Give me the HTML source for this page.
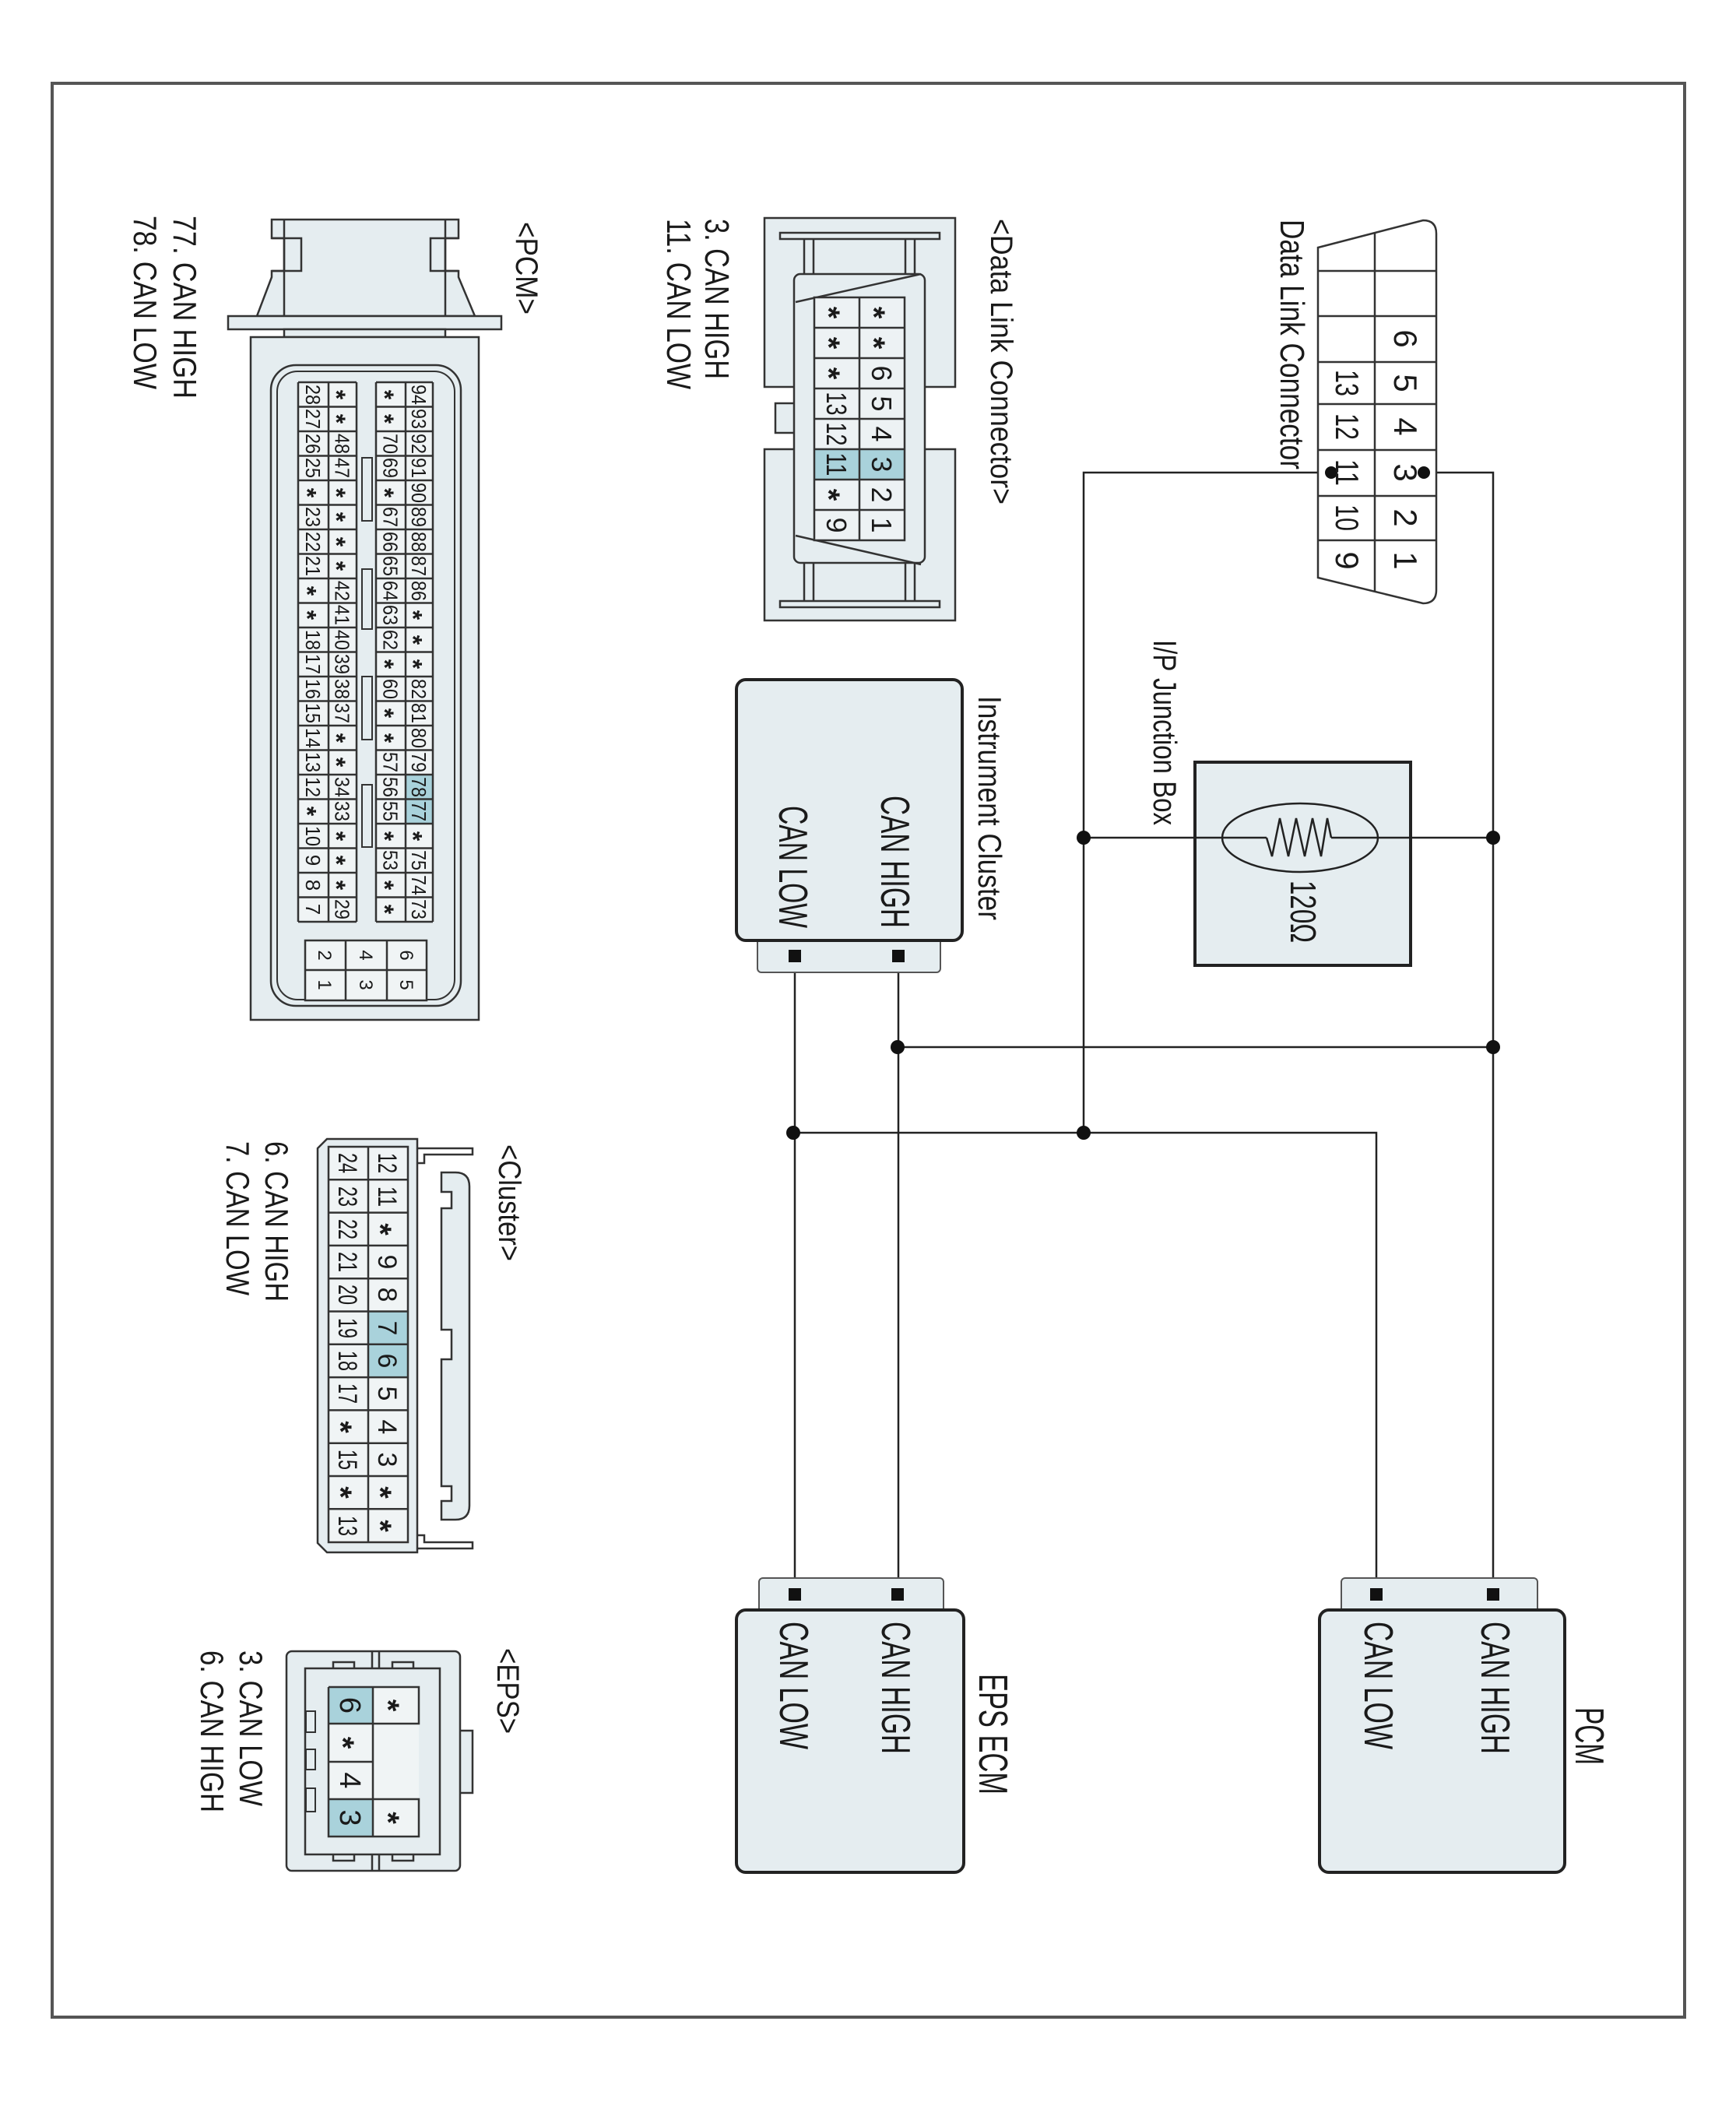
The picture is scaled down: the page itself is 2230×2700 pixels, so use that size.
<!DOCTYPE html>
<html><head><meta charset="utf-8"><style>
html,body{margin:0;padding:0;background:#fff}
svg{display:block}
text{font-family:"Liberation Sans",sans-serif;fill:#1a1a1a}
.f{fill:#e5edf0;stroke:#333;stroke-width:2.5}
.b{fill:#e5edf0;stroke:#222;stroke-width:4}
.w{fill:none;stroke:#222;stroke-width:2.5}
.g{fill:none;stroke:#333;stroke-width:2.5}
.h{fill:#a9d2db}
</style></head><body>
<svg width="2230" height="2700" viewBox="0 0 2230 2700" xmlns="http://www.w3.org/2000/svg">
<rect x="0" y="0" width="2230" height="2700" fill="#fff"/>
<rect x="67" y="107" width="2097" height="2484" fill="none" stroke="#555" stroke-width="4"/>

<!-- ===== Wiring ===== -->
<path class="w" d="M1829,607H1918V2048 M1710,607H1392V1455 M1019,1455H1768V2048 M1153,1345H1918 M1392,1076H1627 M1710,1076H1918 M1021,1228V2048 M1154,1228V2048"/>
<g fill="#111">
<circle cx="1392" cy="1076" r="9"/><circle cx="1918" cy="1076" r="9"/>
<circle cx="1153" cy="1345" r="9"/><circle cx="1918" cy="1345" r="9"/>
<circle cx="1019" cy="1455" r="9"/><circle cx="1392" cy="1455" r="9"/>
</g>

<!-- DLC schematic -->
<path d="M1693,318 L1828,283 Q1845,283 1845,300 L1845,758 Q1845,775 1828,775 L1693,742 Z" fill="#fff" stroke="#333" stroke-width="2.5"/>
<path class="g" d="M1766,300V760 M1693,348H1845 M1693,406H1845 M1693,465H1845 M1693,519H1845 M1693,578H1845 M1693,637H1845 M1693,694H1845"/>
<circle cx="1829" cy="607" r="8" fill="#111"/><circle cx="1710" cy="607" r="8" fill="#111"/>

<!-- Junction box -->
<rect class="b" x="1535" y="979" width="277" height="261"/>
<line class="w" x1="1535" y1="1076" x2="1627" y2="1076"/><line class="w" x1="1710" y1="1076" x2="1812" y2="1076"/>
<ellipse cx="1670" cy="1076" rx="100" ry="44" fill="none" stroke="#222" stroke-width="2.5"/>
<path class="w" d="M1627,1076 L1634,1100 L1644,1051 L1655,1100 L1665,1051 L1676,1100 L1686,1051 L1697,1100 L1705,1051 L1710,1076"/>

<!-- Instrument cluster -->
<rect x="973" y="1200" width="235" height="49" rx="5" fill="#e5edf0" stroke="#555" stroke-width="2"/>
<rect class="b" x="946" y="873" width="290" height="335" rx="12"/>
<rect x="1013" y="1220" width="16" height="16" fill="#111"/><rect x="1146" y="1220" width="16" height="16" fill="#111"/>

<!-- PCM box -->
<rect x="1723" y="2027" width="252" height="49" rx="5" fill="#e5edf0" stroke="#555" stroke-width="2"/>
<rect class="b" x="1695" y="2068" width="315" height="337" rx="12"/>
<rect x="1760" y="2040" width="16" height="16" fill="#111"/><rect x="1910" y="2040" width="16" height="16" fill="#111"/>

<!-- EPS ECM box -->
<rect x="975" y="2027" width="237" height="49" rx="5" fill="#e5edf0" stroke="#555" stroke-width="2"/>
<rect class="b" x="946" y="2068" width="292" height="337" rx="12"/>
<rect x="1013" y="2040" width="16" height="16" fill="#111"/><rect x="1145" y="2040" width="16" height="16" fill="#111"/>

<!-- ===== <Data Link Connector> drawing ===== -->
<rect class="f" x="982" y="280" width="245" height="217"/>
<rect class="f" x="982" y="577" width="245" height="220"/>
<rect class="f" x="996" y="518" width="26" height="38"/>
<rect class="f" x="1020" y="352" width="168" height="371" rx="8"/>
<path class="g" d="M1002,299H1207V307H1002Z M1033,307V352 M1045,307V352 M1163,307V352 M1175,307V352 M1002,772H1207V780H1002Z M1033,723V772 M1045,723V772 M1163,723V772 M1175,723V772"/>
<path class="g" d="M1022,388 L1183,352 M1022,688 L1183,725"/>
<rect x="1046" y="382" width="116" height="312" fill="#edf2f4"/>
<rect class="h" x="1046" y="577" width="116" height="39"/>
<path class="g" d="M1046,382H1162V694H1046Z M1104,382V694 M1046,421H1162 M1046,460H1162 M1046,499H1162 M1046,538H1162 M1046,577H1162 M1046,616H1162 M1046,655H1162"/>

<!-- ===== <PCM> connector drawing ===== -->
<path class="f" d="M349,282H589V306H572V348H589V356L610,406H330L349,356V348H365V306H349Z"/>
<path class="g" d="M365,282V406 M572,282V406 M349,306H387V348H349 M589,306H553V348H589"/>
<rect class="f" x="293" y="406" width="351" height="17"/>
<rect class="f" x="365" y="423" width="207" height="10"/>
<rect class="f" x="322" y="433" width="293" height="877"/>
<rect x="348" y="469" width="244" height="823" rx="32" fill="none" stroke="#333" stroke-width="2.5"/>
<rect x="356" y="477" width="228" height="807" rx="26" fill="none" stroke="#333" stroke-width="2"/>
<rect x="383" y="491" width="75" height="693" fill="#f0f4f5"/>
<rect x="483" y="491" width="73" height="693" fill="#f0f4f5"/>
<rect class="h" x="521" y="995" width="35" height="63"/>
<g class="g">
<path d="M383,491V1184 M422,491V1184 M458,491V1184 M483,491V1184 M521,491V1184 M556,491V1184"/>
<path d="M383,491H458M383,522.5H458M383,554H458M383,585.5H458M383,617H458M383,648.5H458M383,680H458M383,711.5H458M383,743H458M383,774.5H458M383,806H458M383,837.5H458M383,869H458M383,900.5H458M383,932H458M383,963.5H458M383,995H458M383,1026.5H458M383,1058H458M383,1089.5H458M383,1121H458M383,1152.5H458M383,1184H458"/>
<path d="M483,491H556M483,522.5H556M483,554H556M483,585.5H556M483,617H556M483,648.5H556M483,680H556M483,711.5H556M483,743H556M483,774.5H556M483,806H556M483,837.5H556M483,869H556M483,900.5H556M483,932H556M483,963.5H556M483,995H556M483,1026.5H556M483,1058H556M483,1089.5H556M483,1121H556M483,1152.5H556M483,1184H556"/>
</g>
<g fill="#e5edf0" stroke="#333" stroke-width="2">
<rect x="465" y="588" width="13" height="81"/><rect x="465" y="731" width="13" height="77"/><rect x="465" y="869" width="13" height="81"/><rect x="465" y="1008" width="13" height="80"/>
</g>
<rect x="392" y="1208" width="156" height="77" fill="#f0f4f5" stroke="#333" stroke-width="2.5"/>
<path class="g" d="M444,1208V1285 M497,1208V1285 M392,1246H548"/>

<!-- ===== <Cluster> connector drawing ===== -->
<path class="g" d="M536,1475H607V1483H545V1494H536 M536,1989H607V1981H545V1972H536"/>
<path class="f" d="M567,1506H585Q603,1506 603,1524V1934Q603,1952 585,1952H567V1928H580V1909H567V1746H580V1708H567V1552H580V1531H567Z"/>
<path class="f" d="M420,1463H536V1994H420L408,1982V1475Z"/>
<rect x="422" y="1473" width="102" height="508" fill="#f0f4f5"/>
<rect class="h" x="473" y="1684.5" width="51" height="84.6"/>
<path class="g" d="M422,1473H524V1981H422Z M473,1473V1981 M422,1515.3H524M422,1557.6H524M422,1599.9H524M422,1642.2H524M422,1684.5H524M422,1726.8H524M422,1769.1H524M422,1811.4H524M422,1853.7H524M422,1896H524M422,1938.3H524"/>

<!-- ===== <EPS> connector drawing ===== -->
<rect class="f" x="552" y="2223" width="55" height="80"/>
<path class="g" d="M580,2235V2290 M552,2240H566V2286H552"/>
<rect class="f" x="368" y="2121" width="223" height="282" rx="7"/>
<rect class="f" x="392" y="2143" width="173" height="239"/>
<path class="g" d="M478,2121V2143 M487,2121V2143 M478,2382V2403 M487,2382V2403 M428,2143V2135H455V2143 M504,2143V2135H531V2143 M428,2382V2390H455V2382 M504,2382V2390H531V2382"/>
<g fill="#e5edf0" stroke="#333" stroke-width="2"><rect x="393" y="2198" width="12" height="27"/><rect x="393" y="2247" width="12" height="26"/><rect x="393" y="2297" width="12" height="30"/></g>
<rect x="422" y="2167" width="116" height="192" fill="#f0f4f5"/>
<rect class="h" x="422" y="2167" width="57" height="47"/><rect class="h" x="422" y="2311" width="57" height="48"/>
<path class="g" d="M422,2167H538V2214H479 M422,2311H538V2359H422Z M422,2167V2359 M479,2167V2359 M422,2214H479 M422,2263H479"/>

<!-- ===== Text (rotated 90deg) ===== -->
<g transform="rotate(90)">
<text x="282" y="-1645" font-size="44" textLength="321" lengthAdjust="spacingAndGlyphs">Data Link Connector</text>
<text x="822" y="-1482" font-size="42" textLength="238" lengthAdjust="spacingAndGlyphs">I/P Junction Box</text>
<text x="894" y="-1257" font-size="42" textLength="288" lengthAdjust="spacingAndGlyphs">Instrument Cluster</text>
<text x="1022" y="-1132" font-size="52" textLength="170" lengthAdjust="spacingAndGlyphs">CAN HIGH</text>
<text x="1035" y="-1001" font-size="52" textLength="157" lengthAdjust="spacingAndGlyphs">CAN LOW</text>
<text x="1131" y="-1658" font-size="46" textLength="80" lengthAdjust="spacingAndGlyphs">120Ω</text>
<text x="2083" y="-1903" font-size="52" textLength="170" lengthAdjust="spacingAndGlyphs">CAN HIGH</text>
<text x="2083" y="-1753" font-size="52" textLength="164" lengthAdjust="spacingAndGlyphs">CAN LOW</text>
<text x="2193" y="-2024" font-size="52" textLength="74" lengthAdjust="spacingAndGlyphs">PCM</text>
<text x="2083" y="-1133" font-size="52" textLength="170" lengthAdjust="spacingAndGlyphs">CAN HIGH</text>
<text x="2083" y="-1002" font-size="52" textLength="164" lengthAdjust="spacingAndGlyphs">CAN LOW</text>
<text x="2150" y="-1258" font-size="52" textLength="155" lengthAdjust="spacingAndGlyphs">EPS ECM</text>
<text x="281" y="-1273" font-size="40" textLength="367" lengthAdjust="spacingAndGlyphs">&lt;Data Link Connector&gt;</text>
<text x="281" y="-906" font-size="44" textLength="206" lengthAdjust="spacingAndGlyphs">3. CAN HIGH</text>
<text x="281" y="-857" font-size="44" textLength="219" lengthAdjust="spacingAndGlyphs">11. CAN LOW</text>
<text x="285" y="-663" font-size="40" textLength="119" lengthAdjust="spacingAndGlyphs">&lt;PCM&gt;</text>
<text x="277" y="-223" font-size="42" textLength="235" lengthAdjust="spacingAndGlyphs">77. CAN HIGH</text>
<text x="277" y="-172" font-size="42" textLength="223" lengthAdjust="spacingAndGlyphs">78. CAN LOW</text>
<text x="1470" y="-641" font-size="40" textLength="150" lengthAdjust="spacingAndGlyphs">&lt;Cluster&gt;</text>
<text x="1466" y="-341" font-size="42" textLength="206" lengthAdjust="spacingAndGlyphs">6. CAN HIGH</text>
<text x="1466" y="-291" font-size="42" textLength="198" lengthAdjust="spacingAndGlyphs">7. CAN LOW</text>
<text x="2117" y="-639" font-size="40" textLength="110" lengthAdjust="spacingAndGlyphs">&lt;EPS&gt;</text>
<text x="2120" y="-308" font-size="42" textLength="200" lengthAdjust="spacingAndGlyphs">3. CAN LOW</text>
<text x="2120" y="-258" font-size="42" textLength="208" lengthAdjust="spacingAndGlyphs">6. CAN HIGH</text>

<!-- DLC schematic pin numbers -->
<g font-size="42" text-anchor="middle">
<text x="435" y="-1791">6</text><text x="492" y="-1791">5</text><text x="548" y="-1791">4</text><text x="607" y="-1791">3</text><text x="665" y="-1791">2</text><text x="720" y="-1791">1</text>
<text x="492" y="-1716" textLength="34" lengthAdjust="spacingAndGlyphs">13</text><text x="548" y="-1716" textLength="34" lengthAdjust="spacingAndGlyphs">12</text><text x="607" y="-1716" textLength="34" lengthAdjust="spacingAndGlyphs">11</text><text x="665" y="-1716" textLength="34" lengthAdjust="spacingAndGlyphs">10</text><text x="720" y="-1716">9</text>
</g>

<!-- DLC connector cells -->
<g font-size="36" text-anchor="middle">
<text x="518.5" y="-1062" textLength="30" lengthAdjust="spacingAndGlyphs">13</text><text x="557.5" y="-1062" textLength="30" lengthAdjust="spacingAndGlyphs">12</text><text x="596.5" y="-1062" textLength="30" lengthAdjust="spacingAndGlyphs">11</text><text x="674.5" y="-1062">9</text>
<text x="479.5" y="-1120">6</text><text x="518.5" y="-1120">5</text><text x="557.5" y="-1120">4</text><text x="596.5" y="-1120">3</text><text x="635.5" y="-1120">2</text><text x="674.5" y="-1120">1</text>
</g>
<g font-size="40" text-anchor="middle" font-weight="bold">
<text x="401.5" y="-1051">*</text><text x="440.5" y="-1051">*</text><text x="479.5" y="-1051">*</text><text x="635.5" y="-1051">*</text>
<text x="401.5" y="-1109">*</text><text x="440.5" y="-1109">*</text>
</g>

<!-- PCM connector cells -->
<g font-size="26" text-anchor="middle">
<g transform="translate(0,-529)">
<text x="507" textLength="26" lengthAdjust="spacingAndGlyphs">94</text><text x="538" textLength="26" lengthAdjust="spacingAndGlyphs">93</text><text x="570" textLength="26" lengthAdjust="spacingAndGlyphs">92</text><text x="601" textLength="26" lengthAdjust="spacingAndGlyphs">91</text><text x="633" textLength="26" lengthAdjust="spacingAndGlyphs">90</text><text x="664" textLength="26" lengthAdjust="spacingAndGlyphs">89</text><text x="696" textLength="26" lengthAdjust="spacingAndGlyphs">88</text><text x="727" textLength="26" lengthAdjust="spacingAndGlyphs">87</text><text x="759" textLength="26" lengthAdjust="spacingAndGlyphs">86</text><text x="885" textLength="26" lengthAdjust="spacingAndGlyphs">82</text><text x="916" textLength="26" lengthAdjust="spacingAndGlyphs">81</text><text x="948" textLength="26" lengthAdjust="spacingAndGlyphs">80</text><text x="979" textLength="26" lengthAdjust="spacingAndGlyphs">79</text><text x="1011" textLength="26" lengthAdjust="spacingAndGlyphs">78</text><text x="1042" textLength="26" lengthAdjust="spacingAndGlyphs">77</text><text x="1105" textLength="26" lengthAdjust="spacingAndGlyphs">75</text><text x="1137" textLength="26" lengthAdjust="spacingAndGlyphs">74</text><text x="1168" textLength="26" lengthAdjust="spacingAndGlyphs">73</text>
</g>
<g transform="translate(0,-492.5)">
<text x="570" textLength="26" lengthAdjust="spacingAndGlyphs">70</text><text x="601" textLength="26" lengthAdjust="spacingAndGlyphs">69</text><text x="664" textLength="26" lengthAdjust="spacingAndGlyphs">67</text><text x="696" textLength="26" lengthAdjust="spacingAndGlyphs">66</text><text x="727" textLength="26" lengthAdjust="spacingAndGlyphs">65</text><text x="759" textLength="26" lengthAdjust="spacingAndGlyphs">64</text><text x="790" textLength="26" lengthAdjust="spacingAndGlyphs">63</text><text x="822" textLength="26" lengthAdjust="spacingAndGlyphs">62</text><text x="885" textLength="26" lengthAdjust="spacingAndGlyphs">60</text><text x="979" textLength="26" lengthAdjust="spacingAndGlyphs">57</text><text x="1011" textLength="26" lengthAdjust="spacingAndGlyphs">56</text><text x="1042" textLength="26" lengthAdjust="spacingAndGlyphs">55</text><text x="1105" textLength="26" lengthAdjust="spacingAndGlyphs">53</text>
</g>
<g transform="translate(0,-430.5)">
<text x="570" textLength="26" lengthAdjust="spacingAndGlyphs">48</text><text x="601" textLength="26" lengthAdjust="spacingAndGlyphs">47</text><text x="759" textLength="26" lengthAdjust="spacingAndGlyphs">42</text><text x="790" textLength="26" lengthAdjust="spacingAndGlyphs">41</text><text x="822" textLength="26" lengthAdjust="spacingAndGlyphs">40</text><text x="853" textLength="26" lengthAdjust="spacingAndGlyphs">39</text><text x="885" textLength="26" lengthAdjust="spacingAndGlyphs">38</text><text x="916" textLength="26" lengthAdjust="spacingAndGlyphs">37</text><text x="1011" textLength="26" lengthAdjust="spacingAndGlyphs">34</text><text x="1042" textLength="26" lengthAdjust="spacingAndGlyphs">33</text><text x="1168" textLength="26" lengthAdjust="spacingAndGlyphs">29</text>
</g>
<g transform="translate(0,-393)">
<text x="507" textLength="26" lengthAdjust="spacingAndGlyphs">28</text><text x="538" textLength="26" lengthAdjust="spacingAndGlyphs">27</text><text x="570" textLength="26" lengthAdjust="spacingAndGlyphs">26</text><text x="601" textLength="26" lengthAdjust="spacingAndGlyphs">25</text><text x="664" textLength="26" lengthAdjust="spacingAndGlyphs">23</text><text x="696" textLength="26" lengthAdjust="spacingAndGlyphs">22</text><text x="727" textLength="26" lengthAdjust="spacingAndGlyphs">21</text><text x="822" textLength="26" lengthAdjust="spacingAndGlyphs">18</text><text x="853" textLength="26" lengthAdjust="spacingAndGlyphs">17</text><text x="885" textLength="26" lengthAdjust="spacingAndGlyphs">16</text><text x="916" textLength="26" lengthAdjust="spacingAndGlyphs">15</text><text x="948" textLength="26" lengthAdjust="spacingAndGlyphs">14</text><text x="979" textLength="26" lengthAdjust="spacingAndGlyphs">13</text><text x="1011" textLength="26" lengthAdjust="spacingAndGlyphs">12</text><text x="1074" textLength="26" lengthAdjust="spacingAndGlyphs">10</text><text x="1105">9</text><text x="1137">8</text><text x="1168">7</text>
</g>
</g>
<g font-size="32" text-anchor="middle" font-weight="bold">
<g transform="translate(0,-519.5)"><text x="790">*</text><text x="822">*</text><text x="853">*</text><text x="1074">*</text></g>
<g transform="translate(0,-483)"><text x="507">*</text><text x="538">*</text><text x="633">*</text><text x="853">*</text><text x="916">*</text><text x="948">*</text><text x="1074">*</text><text x="1137">*</text><text x="1168">*</text></g>
<g transform="translate(0,-421)"><text x="507">*</text><text x="538">*</text><text x="633">*</text><text x="664">*</text><text x="696">*</text><text x="727">*</text><text x="948">*</text><text x="979">*</text><text x="1074">*</text><text x="1105">*</text><text x="1137">*</text></g>
<g transform="translate(0,-383.5)"><text x="633">*</text><text x="759">*</text><text x="790">*</text><text x="1042">*</text></g>
</g>
<g font-size="24" text-anchor="middle">
<text x="1227" y="-409">2</text><text x="1227" y="-462">4</text><text x="1227" y="-514">6</text>
<text x="1265" y="-409">1</text><text x="1265" y="-462">3</text><text x="1265" y="-514">5</text>
</g>

<!-- Cluster connector cells -->
<g font-size="34" text-anchor="middle">
<g transform="translate(0,-486)">
<text x="1494" textLength="26" lengthAdjust="spacingAndGlyphs">12</text><text x="1537" textLength="26" lengthAdjust="spacingAndGlyphs">11</text><text x="1621">9</text><text x="1663">8</text><text x="1706">7</text><text x="1748">6</text><text x="1790">5</text><text x="1833">4</text><text x="1875">3</text>
</g>
<g transform="translate(0,-435)">
<text x="1494" textLength="26" lengthAdjust="spacingAndGlyphs">24</text><text x="1537" textLength="26" lengthAdjust="spacingAndGlyphs">23</text><text x="1579" textLength="26" lengthAdjust="spacingAndGlyphs">22</text><text x="1621" textLength="26" lengthAdjust="spacingAndGlyphs">21</text><text x="1663" textLength="26" lengthAdjust="spacingAndGlyphs">20</text><text x="1706" textLength="26" lengthAdjust="spacingAndGlyphs">19</text><text x="1748" textLength="26" lengthAdjust="spacingAndGlyphs">18</text><text x="1790" textLength="26" lengthAdjust="spacingAndGlyphs">17</text><text x="1875" textLength="26" lengthAdjust="spacingAndGlyphs">15</text><text x="1960" textLength="26" lengthAdjust="spacingAndGlyphs">13</text>
</g>
</g>
<g font-size="40" text-anchor="middle" font-weight="bold">
<text x="1579" y="-475">*</text><text x="1917" y="-475">*</text><text x="1960" y="-475">*</text>
<text x="1833" y="-424">*</text><text x="1917" y="-424">*</text>
</g>

<!-- EPS connector cells -->
<g font-size="38" text-anchor="middle">
<text x="2190.5" y="-437">6</text><text x="2287" y="-437">4</text><text x="2335" y="-437">3</text>
</g>
<g font-size="40" text-anchor="middle" font-weight="bold">
<text x="2238.5" y="-427">*</text><text x="2190.5" y="-485">*</text><text x="2335" y="-485">*</text>
</g>
</g>
</svg>
</body></html>
